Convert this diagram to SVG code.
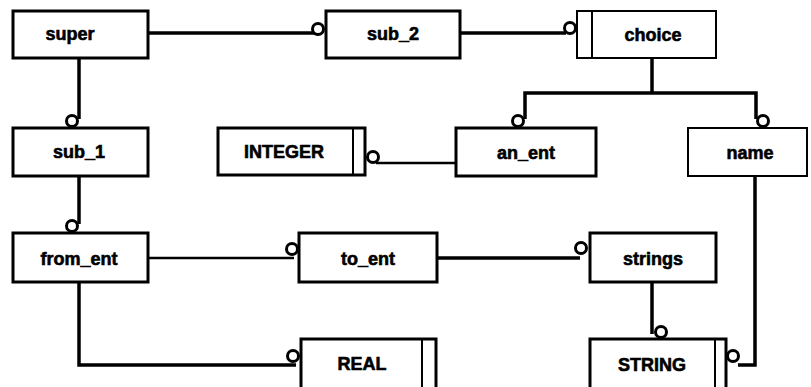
<svg xmlns="http://www.w3.org/2000/svg" width="811" height="387" viewBox="0 0 811 387">
<style>
.box{fill:#fff;stroke:#000;stroke-width:3}
.thin{fill:#fff;stroke:#000;stroke-width:2}
.in{stroke:#000;stroke-width:2}
.lbl{font-family:"Liberation Sans",Arial,sans-serif;font-weight:bold;font-size:18px;text-anchor:middle;dominant-baseline:central;fill:#000;stroke:#000;stroke-width:0.6}
.c{fill:none;stroke:#000;stroke-width:3.5;stroke-linejoin:miter}
.ct{fill:none;stroke:#000;stroke-width:2.5}
.o{fill:#fff;stroke:#000;stroke-width:3}
</style>
<rect width="811" height="387" fill="#fff"/>
<g id="connectors">
<polyline class="c" points="148,33 316,33"/>
<circle class="o" cx="318" cy="29" r="5.5"/>
<polyline class="c" points="460,33 566,33"/>
<circle class="o" cx="570" cy="28" r="5.5"/>
<polyline class="c" points="79,58 79,119"/>
<circle class="o" cx="72" cy="121" r="5.5"/>
<polyline class="c" points="652,58 652,93"/>
<polyline class="c" points="525,119 525,93 756,93 756,119"/>
<circle class="o" cx="518" cy="121" r="5.5"/>
<circle class="o" cx="763" cy="121" r="5.5"/>
<polyline class="ct" points="456,163 376,163"/>
<circle class="o" cx="373" cy="157" r="5.5"/>
<polyline class="c" points="755,176 755,365 738,365"/>
<circle class="o" cx="733" cy="356" r="5.5"/>
<polyline class="c" points="79,176 79,224"/>
<circle class="o" cx="72" cy="226" r="5.5"/>
<polyline class="ct" points="148,258 294,258"/>
<circle class="o" cx="292" cy="249" r="5.5"/>
<polyline class="c" points="79,282 79,365 296,365"/>
<circle class="o" cx="293" cy="356" r="5.5"/>
<polyline class="c" points="437,258 580,258"/>
<circle class="o" cx="581" cy="248" r="5.5"/>
<polyline class="c" points="652,282 652,334"/>
<circle class="o" cx="661" cy="332" r="5.5"/>
</g>
<g id="super"><rect class="box" x="13" y="11" width="135" height="47"/><text class="lbl" x="70" y="34">super</text></g>
<g id="sub_2"><rect class="box" x="326" y="11" width="134" height="47"/><text class="lbl" x="393" y="34">sub_2</text></g>
<g id="choice"><rect class="thin" x="577" y="11" width="139" height="47"/><line class="in" x1="592" y1="11" x2="592" y2="58"/><text class="lbl" x="653" y="35">choice</text></g>
<g id="sub_1"><rect class="box" x="13" y="128" width="135" height="48"/><text class="lbl" x="79" y="152">sub_1</text></g>
<g id="INTEGER"><rect class="box" x="218" y="128" width="147" height="47"/><line class="in" x1="353" y1="128" x2="353" y2="175"/><text class="lbl" x="284" y="152">INTEGER</text></g>
<g id="an_ent"><rect class="box" x="456" y="128" width="140" height="48"/><text class="lbl" x="526" y="153">an_ent</text></g>
<g id="name"><rect class="thin" x="688" y="128" width="119" height="48"/><text class="lbl" x="750" y="153">name</text></g>
<g id="from_ent"><rect class="box" x="13" y="233" width="135" height="49"/><text class="lbl" x="79" y="259">from_ent</text></g>
<g id="to_ent"><rect class="box" x="299" y="233" width="138" height="49"/><text class="lbl" x="368" y="259">to_ent</text></g>
<g id="strings"><rect class="box" x="590" y="233" width="126" height="49"/><text class="lbl" x="653" y="259">strings</text></g>
<g id="REAL"><rect class="box" x="301" y="339" width="135" height="60"/><line class="in" x1="422" y1="339" x2="422" y2="390"/><text class="lbl" x="362" y="364">REAL</text></g>
<g id="STRING"><rect class="box" x="590" y="339" width="136" height="60"/><line class="in" x1="715" y1="339" x2="715" y2="390"/><text class="lbl" x="652" y="365">STRING</text></g>
</svg>
